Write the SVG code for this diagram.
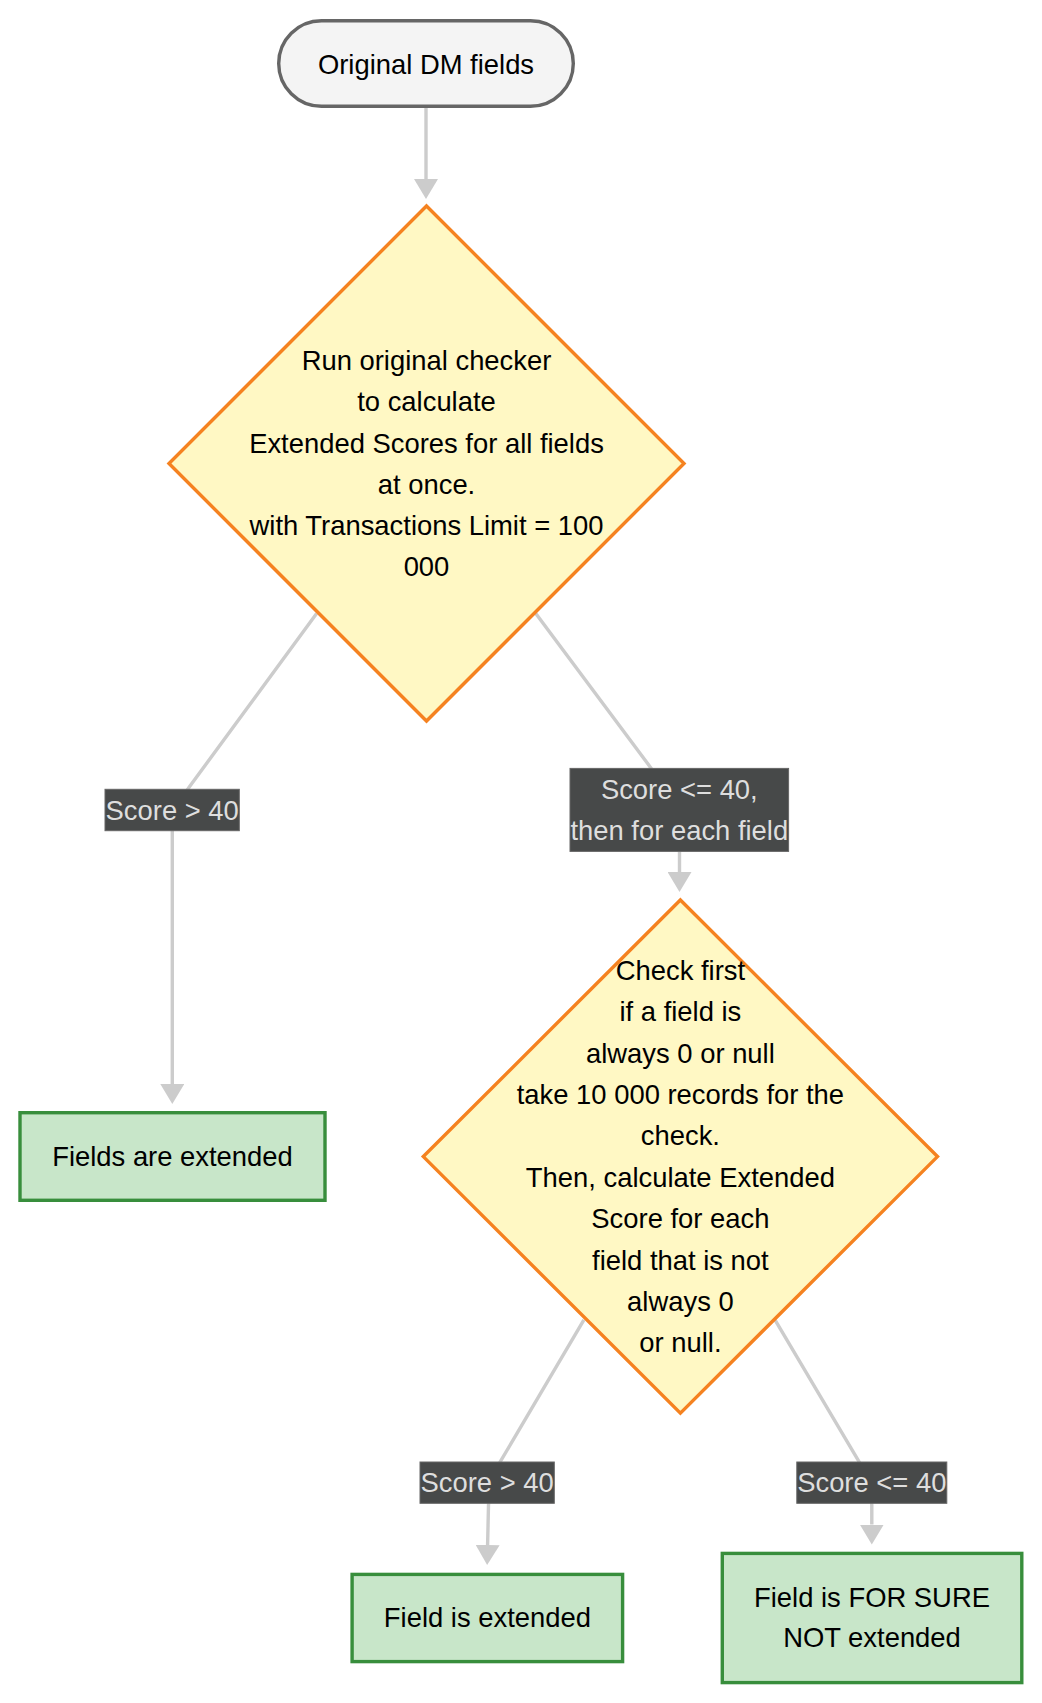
<svg xmlns="http://www.w3.org/2000/svg" width="1042" height="1703" viewBox="0 0 1042 1703">
<style>
  .node text { font-family: "Liberation Sans", Arial, sans-serif; font-size: 27.4px; fill: #000; text-anchor: middle; dominant-baseline: central; }
  .decision { fill: #fff8c4; stroke: #f58220; stroke-width: 3.4; }
  .terminal { fill: #f4f4f4; stroke: #666666; stroke-width: 3.4; }
  .result { fill: #c8e6c9; stroke: #388e3c; stroke-width: 3.4; }
  .edge { fill: none; stroke: #cccccc; stroke-width: 3.4; }
  .lbl rect { fill: #474949; stroke: #666666; stroke-width: 1; }
  .lbl text { font-family: "Liberation Sans", Arial, sans-serif; font-size: 27.4px; fill: #dedede; text-anchor: middle; dominant-baseline: central; }
</style>
<defs>
  <marker id="arrow" viewBox="0 0 10 10" refX="0" refY="5" markerUnits="userSpaceOnUse" markerWidth="20" markerHeight="24" orient="auto" preserveAspectRatio="none">
    <path d="M0,0 L10,5 L0,10 z" fill="#cccccc"/>
  </marker>
</defs>
<rect width="1042" height="1703" fill="#ffffff"/>

<g id="connectors">
  <path class="edge" d="M426,108 L426,179" marker-end="url(#arrow)"/>
  <path class="edge" d="M316.6,613.6 L190,786 Q172,810 172.3,832 L172.3,1084" marker-end="url(#arrow)"/>
  <path class="edge" d="M535.8,613.6 L648,764 Q679.5,806 679.5,830 L679.5,872" marker-end="url(#arrow)"/>
  <path class="edge" d="M583.9,1319.8 L500.3,1461.7 Q489,1481 488.5,1505 L487.6,1545" marker-end="url(#arrow)"/>
  <path class="edge" d="M775,1319.8 L859,1461.7 Q871.8,1481 871.8,1505 L871.8,1524.5" marker-end="url(#arrow)"/>
</g>

<g id="edge-labels">
  <g class="lbl" id="label-score-gt-40-a">
    <rect x="105" y="789.3" width="134.3" height="41.4"/>
    <text x="172.2" y="810">Score &gt; 40</text>
  </g>
  <g class="lbl" id="label-score-le-40-each">
    <rect x="570" y="768.4" width="218.6" height="83"/>
    <text x="679.3" y="789">Score &lt;= 40,</text>
    <text x="679.3" y="830.2">then for each field</text>
  </g>
  <g class="lbl" id="label-score-gt-40-b">
    <rect x="420" y="1462" width="134.3" height="41.3"/>
    <text x="487.1" y="1482.7">Score &gt; 40</text>
  </g>
  <g class="lbl" id="label-score-le-40-b">
    <rect x="796.8" y="1462" width="150" height="41.3"/>
    <text x="871.8" y="1482.7">Score &lt;= 40</text>
  </g>
</g>

<g id="node-start" class="node">
  <rect class="terminal" x="278.7" y="20.7" width="294.6" height="85.6" rx="42.8" ry="42.8"/>
  <text x="426" y="64.5">Original DM fields</text>
</g>

<g id="node-run-checker" class="node">
  <polygon class="decision" points="426.5,206 684,463.5 426.5,721 169,463.5"/>
  <text x="426.5" y="360.8">Run original checker</text>
  <text x="426.5" y="401.9">to calculate</text>
  <text x="426.5" y="443">Extended Scores for all fields</text>
  <text x="426.5" y="484.1">at once.</text>
  <text x="426.5" y="525.2">with Transactions Limit = 100</text>
  <text x="426.5" y="566.3">000</text>
</g>

<g id="node-fields-extended" class="node">
  <rect class="result" x="20" y="1112.7" width="305" height="87.6"/>
  <text x="172.5" y="1156.5">Fields are extended</text>
</g>

<g id="node-check-first" class="node">
  <polygon class="decision" points="680.4,900 937.5,1156.6 680.4,1413.2 423.3,1156.6"/>
  <text x="680.4" y="970.3">Check first</text>
  <text x="680.4" y="1011.7">if a field is</text>
  <text x="680.4" y="1053.1">always 0 or null</text>
  <text x="680.4" y="1094.5">take 10 000 records for the</text>
  <text x="680.4" y="1135.9">check.</text>
  <text x="680.4" y="1177.3">Then, calculate Extended</text>
  <text x="680.4" y="1218.7">Score for each</text>
  <text x="680.4" y="1260.1">field that is not</text>
  <text x="680.4" y="1301.5">always 0</text>
  <text x="680.4" y="1342.9">or null.</text>
</g>

<g id="node-field-extended" class="node">
  <rect class="result" x="352.1" y="1574.4" width="270.5" height="87.2"/>
  <text x="487.4" y="1617.5">Field is extended</text>
</g>

<g id="node-field-not-extended" class="node">
  <rect class="result" x="722.3" y="1553.4" width="299.5" height="129.2"/>
  <text x="872" y="1597">Field is FOR SURE</text>
  <text x="872" y="1637.8">NOT extended</text>
</g>
</svg>
